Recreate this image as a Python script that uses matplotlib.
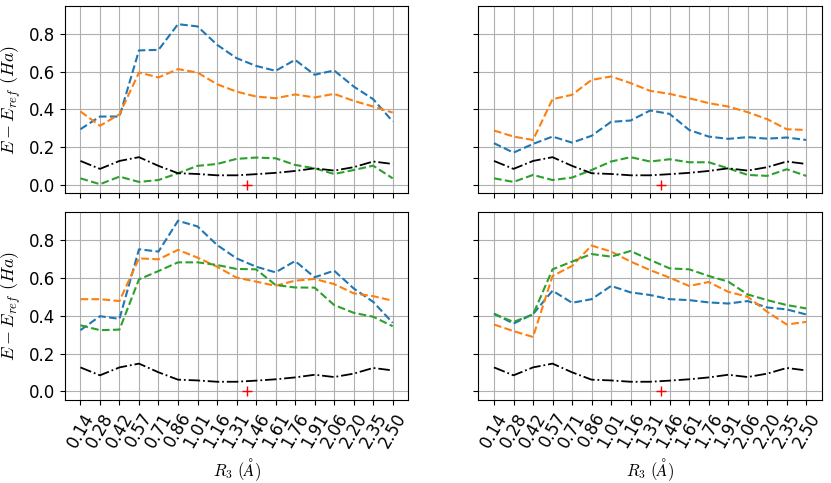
import numpy as np
import matplotlib
matplotlib.use("Agg")
import matplotlib.pyplot as plt

plt.rcParams['mathtext.fontset'] = 'cm'
plt.rcParams['font.size'] = 10

r_labels = ['0.14', '0.28', '0.42', '0.57', '0.71', '0.86', '1.01', '1.16', '1.31',
            '1.46', '1.61', '1.76', '1.91', '2.06', '2.20', '2.35', '2.50']
r_values = [float(s) for s in r_labels]
r_eq = 1.39

# reference curve (same in every panel)
ref = [0.127, 0.085, 0.127, 0.147, 0.101, 0.062, 0.058, 0.051, 0.051,
       0.057, 0.064, 0.074, 0.088, 0.076, 0.094, 0.124, 0.111]

# top left
tl_blue = [0.295, 0.362, 0.362, 0.712, 0.715, 0.851, 0.839, 0.742, 0.671,
           0.630, 0.604, 0.662, 0.583, 0.606, 0.521, 0.454, 0.336]
tl_orange = [0.389, 0.313, 0.374, 0.595, 0.569, 0.613, 0.595, 0.533, 0.494,
             0.468, 0.459, 0.479, 0.463, 0.482, 0.445, 0.415, 0.383]
tl_green = [0.035, 0.004, 0.044, 0.016, 0.026, 0.062, 0.101, 0.111, 0.138,
            0.145, 0.141, 0.106, 0.088, 0.058, 0.079, 0.102, 0.035]

# top right
tr_blue = [0.221, 0.171, 0.217, 0.256, 0.224, 0.260, 0.334, 0.341, 0.394,
           0.376, 0.291, 0.256, 0.244, 0.253, 0.245, 0.251, 0.238]
tr_orange = [0.288, 0.256, 0.238, 0.454, 0.477, 0.556, 0.574, 0.539, 0.498,
             0.482, 0.459, 0.433, 0.415, 0.385, 0.348, 0.295, 0.291]
tr_green = [0.035, 0.016, 0.053, 0.026, 0.039, 0.079, 0.124, 0.147, 0.124,
            0.136, 0.120, 0.120, 0.088, 0.053, 0.048, 0.083, 0.048]

# bottom left
bl_blue = [0.324, 0.398, 0.384, 0.752, 0.740, 0.903, 0.873, 0.775, 0.704,
           0.660, 0.630, 0.690, 0.604, 0.639, 0.545, 0.474, 0.363]
bl_orange = [0.488, 0.488, 0.478, 0.704, 0.699, 0.749, 0.708, 0.660, 0.602,
             0.581, 0.559, 0.586, 0.595, 0.568, 0.519, 0.504, 0.480]
bl_green = [0.350, 0.324, 0.327, 0.593, 0.637, 0.683, 0.683, 0.669, 0.648,
            0.646, 0.563, 0.550, 0.549, 0.457, 0.416, 0.395, 0.345]

# bottom right
br_blue = [0.412, 0.359, 0.409, 0.533, 0.469, 0.488, 0.558, 0.524, 0.510,
           0.488, 0.483, 0.471, 0.465, 0.478, 0.444, 0.434, 0.407]
br_orange = [0.354, 0.319, 0.288, 0.611, 0.664, 0.772, 0.740, 0.687, 0.642,
             0.602, 0.558, 0.579, 0.527, 0.501, 0.421, 0.354, 0.368]
br_green = [0.409, 0.368, 0.407, 0.646, 0.687, 0.727, 0.713, 0.743, 0.696,
            0.651, 0.646, 0.611, 0.581, 0.513, 0.483, 0.457, 0.439]

panels = [[(tl_blue, tl_orange, tl_green), (tr_blue, tr_orange, tr_green)],
          [(bl_blue, bl_orange, bl_green), (br_blue, br_orange, br_green)]]

x = np.arange(len(r_labels))
x_eq = np.interp(r_eq, r_values, x)

fig, axs = plt.subplots(2, 2, sharex=True, sharey=True, figsize=(8.31, 4.83), dpi=100)
fig.subplots_adjust(left=0.078, right=0.989, top=0.988, bottom=0.172, hspace=0.1, wspace=0.204)

for i in range(2):
    for j in range(2):
        ax = axs[i, j]
        b, o, g = panels[i][j]
        ax.plot(x, b, '--', color='tab:blue')
        ax.plot(x, o, '--', color='tab:orange')
        ax.plot(x, g, '--', color='tab:green')
        ax.plot(x, ref, '-.', color='k', lw=1.3)
        ax.plot(x_eq, 0, 'r+', markersize=7)
        ax.grid(True)
        ax.set_xticks(x)
        ax.set_xticklabels(r_labels, rotation=60, fontsize=12)
        ax.tick_params(axis='y', labelsize=12)
    axs[i, 0].set_ylabel(r'$E - E_{ref}\ (Ha)$', fontsize=13)
    axs[1, i].set_xlabel(r'$R_3\ (\AA)$', fontsize=12)

fig.savefig('out.png')
